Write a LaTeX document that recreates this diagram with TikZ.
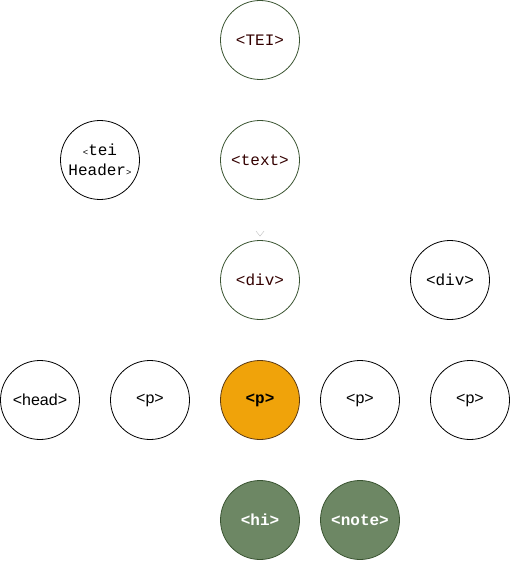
\documentclass[tikz,border=0pt]{standalone}
\usepackage{fontspec}
\setmainfont{Liberation Sans}
\setsansfont{Liberation Sans}
\setmonofont{Liberation Mono}
\usepackage{xcolor}
\usetikzlibrary{calc}
\definecolor{teiRed}{HTML}{330000}
\definecolor{teiGreen}{HTML}{3A5431}
\definecolor{hiFill}{HTML}{6D8764}
\definecolor{pFill}{HTML}{F0A30A}
\definecolor{pLine}{HTML}{5A3A14}
\tikzset{
  elem/.style={circle,draw,line width=0.8pt,minimum size=79pt,inner sep=0pt,align=center},
  mono/.style={font=\fontsize{16}{20}\selectfont\ttfamily},
  plain/.style={elem,font=\fontsize{16}{19}\selectfont\sffamily},
  trail/.style={elem,mono,draw=teiGreen,text=teiRed},
  hilite/.style={elem,font=\fontsize{16}{19}\selectfont\ttfamily\bfseries,fill=pFill,draw=pLine},
  child/.style={elem,font=\fontsize{16}{19}\selectfont\ttfamily\bfseries,fill=hiFill,draw=teiGreen,text=white},
  vmark/.style={gray!45,line width=0.5pt}
}

\begin{document}
\begin{tikzpicture}[x=1pt,y=-1pt]
  \useasboundingbox (0,0) rectangle (511,572);
  % tei tree
  \node[trail] (tei) at (260,40) {<TEI>};
  \node[elem,mono] (header) at (100,160) {{\small<}tei\\Header{\small>}};
  \node[trail] (text) at (260,160) {<text>};
  \node[trail] (divA) at (260,280) {<div>};
  \node[elem,mono] (divB) at (450,280) {<div>};
  % paragraphs
  \node[plain] (head) at (40,400) {<head>};
  \node[plain] (pA) at (150,400) {<p>};
  \node[hilite] (pB) at (260,400) {<p>};
  \node[plain] (pC) at (360,400) {<p>};
  \node[plain] (pD) at (470,400) {<p>};
  % inline
  \node[child] (hi) at (260,520) {<hi>};
  \node[child] (note) at (360,520) {<note>};
  \draw[vmark] ([xshift=-4pt,yshift=9pt]divA.north) -- ([yshift=4pt]divA.north) -- ([xshift=4pt,yshift=9pt]divA.north);
\end{tikzpicture}
\end{document}
